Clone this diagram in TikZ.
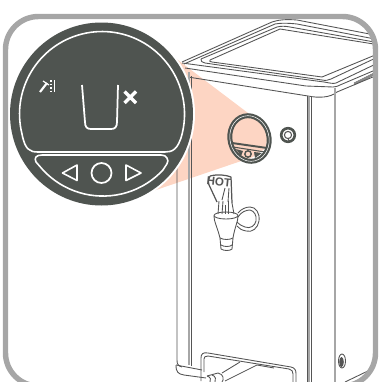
\documentclass[tikz,border=0pt]{standalone}
\usepackage{xcolor}
\usepackage{fontspec}
\setsansfont{Liberation Sans}
\usetikzlibrary{calc,positioning}
\definecolor{panel}{HTML}{4F5450}
\definecolor{peach}{HTML}{FDD5C3}
\definecolor{framegray}{HTML}{A6A6A6}
\definecolor{bodyline}{HTML}{555555}
\tikzset{
  outline/.style={draw=bodyline,line width=0.5pt,line join=round},
  greyline/.style={draw=framegray,line width=0.7pt},
  panelline/.style={draw=white,line width=0.9pt,line join=round},
}
\begin{document}
\begin{tikzpicture}[x=0.02cm,y=-0.02cm]
\useasboundingbox (0,0) rectangle (379,382);
\clip (0,0) rectangle (379,382);
% peach beam
\fill[peach] (170,54) -- (248,113) -- (268,130) -- (266,148) -- (253,157) -- (150,192) -- cycle;
% machine, kept inside the frame
\begin{scope}
\clip[rounded corners=0.66cm] (5.5,16.5) rectangle (375.5,386);
% lid
\draw[outline] (182,62) -- (272,22) .. controls (278,20) and (285,19) .. (297,20) -- (380,36);
\draw[outline] (184,64) -- (275,24) .. controls (280,23) and (288,23) .. (297,24) -- (380,40);
\draw[outline] (201,59) -- (277,27) .. controls (281,26) and (285,26) .. (290,27) -- (380,43);
\draw[outline] (201,59) .. controls (200,61) and (202,62) .. (205,63) -- (322,80) .. controls (326,81) and (328,80) .. (331,79) -- (380,56);
\draw[outline] (210,60) -- (280,29) -- (380,45);
\draw[outline] (210,60) .. controls (209,61) and (210,62) .. (212,62) -- (322,77) -- (380,53);
\draw[outline] (182,63) -- (324,82) .. controls (330,83) and (333,84) .. (336,83) -- (380,62);
\draw[outline] (185,68) -- (306,86) -- (333,87) .. controls (336,87) and (338,86) .. (340,85) -- (380,68);
\draw[outline] (188,77) -- (308,96) .. controls (318,98) and (330,98) .. (337,92) -- (380,74);
\foreach \s in {0,1,2}{\draw[bodyline,line width=0.3pt] (354,83+\s) -- (378,71+\s);}
% side edges
\draw[outline] (177,168) -- (177,360) .. controls (177,364) and (178,366) .. (182,367);
\draw[draw=framegray,line width=1.6pt] (189,72) -- (189,365);
\draw[outline] (191,76) -- (191,366);
\draw[draw=framegray,line width=1.1pt] (309,97) -- (309,382);
\draw[outline] (307,96) -- (307,382);
\draw[outline] (311,97) -- (311,382);
\draw[greyline] (335,88) -- (335,382);
% foot
\draw[outline] (176,365) .. controls (176,372) and (178,374) .. (184,375) -- (206,378);
\draw[outline] (176,365) -- (202,370);
% tray
\draw[outline] (201,381) -- (201,358) .. controls (201,354) and (203,352) .. (208,353) -- (291,367) .. controls (295,368) and (296,370) .. (296,374) -- (296,382);
\draw[outline] (204,372) -- (204,359) .. controls (204,357) and (205,356) .. (208,356) -- (289,369) .. controls (292,370) and (293,371) .. (293,374) -- (293,382);
\draw[outline] (222,373) -- (240,362);
\draw[outline] (225,381) -- (257,365);
\draw[outline] (257,365) -- (274,368);
\draw[outline] (207,376) -- (218,373) .. controls (224,374) and (224,380) .. (222,382);
\draw[outline] (212,375) .. controls (216,376) and (216,380) .. (215,382);
\draw[outline] (207,376) .. controls (211,377) and (211,380) .. (210,382);
% drain hole
\draw[outline,fill=white] (342,361) ellipse (3.5 and 7);
\fill[bodyline] (341.5,362) ellipse (2.3 and 5);
% base line
\draw[outline] (345,382) -- (372,369);
\draw[greyline] (354,382) -- (374,373);
\end{scope}
% small panel
\begin{scope}[rotate around={14:(249.5,138.5)}]
\draw[panel,line width=2.8pt] (249.5,138.5) ellipse (19.5 and 23);
\draw[white,line width=0.3pt] (249.5,138.5) ellipse (19.5 and 23);
\end{scope}
\draw[panel,line width=1.1pt] (232,143) -- (267,148);
\draw[panel,line width=0.6pt] (233,147) -- (265,152);
\fill[panel] (236,149) -- (243,151) -- (241,156) -- cycle;
\fill[panel] (254,152) -- (262,153) -- (255,158) -- cycle;
\draw[panel,line width=0.8pt] (248,154) circle (3.2);
% indicator
\draw[panel,line width=1.5pt] (288,135) circle (6.8);
\draw[bodyline,line width=0.6pt] (288,135) circle (3.6);
\draw[bodyline,line width=0.6pt] (288,138) -- (289,141);
% tap
\draw[outline,line width=0.7pt] (210,176) .. controls (218,174) and (226,175) .. (231,177) -- (232,203);
\draw[outline,line width=0.7pt] (210,176) .. controls (208,180) and (208,184) .. (210,187) -- (217,202);
\draw[outline] (222,200) -- (225,188);
\draw[outline] (228,202) -- (229,188);
\draw[outline] (219,201) -- (218,214);
\draw[outline] (223,201) -- (222,214);
\draw[outline] (228,201) -- (228,214);
\draw[outline] (232,203) -- (234,214);
\draw[outline] (225,205) -- (225,214);
\node[font=\sffamily\bfseries\fontsize{6.6}{7}\selectfont,text=bodyline,inner sep=0pt,rotate=-6] (hot) at (219,182) {HOT};
\draw[outline] (226,215.5) ellipse (12 and 3.5);
\draw[outline] (214,216) .. controls (214,222) and (217,226) .. (220,238);
\draw[outline] (238,216) .. controls (238,222) and (235,226) .. (233,238);
\draw[outline] (220,238) .. controls (224,240) and (229,240) .. (233,238);
\draw[outline] (220,238) -- (221,249) .. controls (224,251) and (230,251) .. (232,249) -- (233,238);
\draw[outline] (221,245) .. controls (224,247) and (230,247) .. (232,245);
\draw[outline] (238,213) .. controls (241,209) and (246,207) .. (250,207) .. controls (256,207) and (260,213) .. (259,221) .. controls (258,228) and (252,233) .. (246,231) .. controls (242,230) and (239,229) .. (237,226);
\draw[outline] (238,217) .. controls (241,212) and (246,210) .. (250,210) .. controls (254,211) and (257,215) .. (256,221) .. controls (255,226) and (250,229) .. (245,227) .. controls (242,226) and (240,225) .. (237,222);
% big panel
\fill[white] (101.5,114) circle (93.5);
\fill[panel] (101.5,114) circle (91.5);
\draw[panelline] (22,134) arc[start angle=166,end angle=374,radius=82.5] .. controls (178,150) and (172,152) .. (165,152) -- (38,152) .. controls (30,152) and (25,150) .. (22,134) -- cycle;
\draw[panelline] (43,170) arc[start angle=137,end angle=43,radius=82] .. controls (165,166) and (170,162) .. (167,158) .. controls (166,156) and (164,155) .. (161,155) -- (42,155) .. controls (36,155) and (34,158) .. (36,162) -- cycle;
% cup
\draw[panelline,line width=1pt] (82,85) -- (85,122) .. controls (85,127) and (87,129) .. (91,129) -- (111,129) .. controls (115,129) and (117,127) .. (117,122) -- (118,85);
\draw[white,line width=2pt] (124.5,91.5) -- (136,103) (136,91.5) -- (124.5,103);
% buttons
\draw[panelline] (62.5,173) -- (77,165) -- (77,180.5) -- cycle;
\draw[panelline] (126,165) -- (141,173) -- (126,180.5) -- cycle;
\draw[panelline,line width=1pt] (101.5,173) circle (10);
% hot water icon
\draw[white,line width=1.2pt] (40,92) -- (47,83);
\draw[white,line width=0.7pt] (43,81) -- (49,85);
\draw[white,line width=0.7pt] (54.5,80) -- (54.5,92);
\draw[white,line width=0.7pt,dash pattern=on 1pt off 1pt] (51,80) -- (51,92);
% frame
\draw[framegray,line width=3.1pt,rounded corners=0.66cm] (5.5,16.5) rectangle (375.5,386);
\end{tikzpicture}
\end{document}
